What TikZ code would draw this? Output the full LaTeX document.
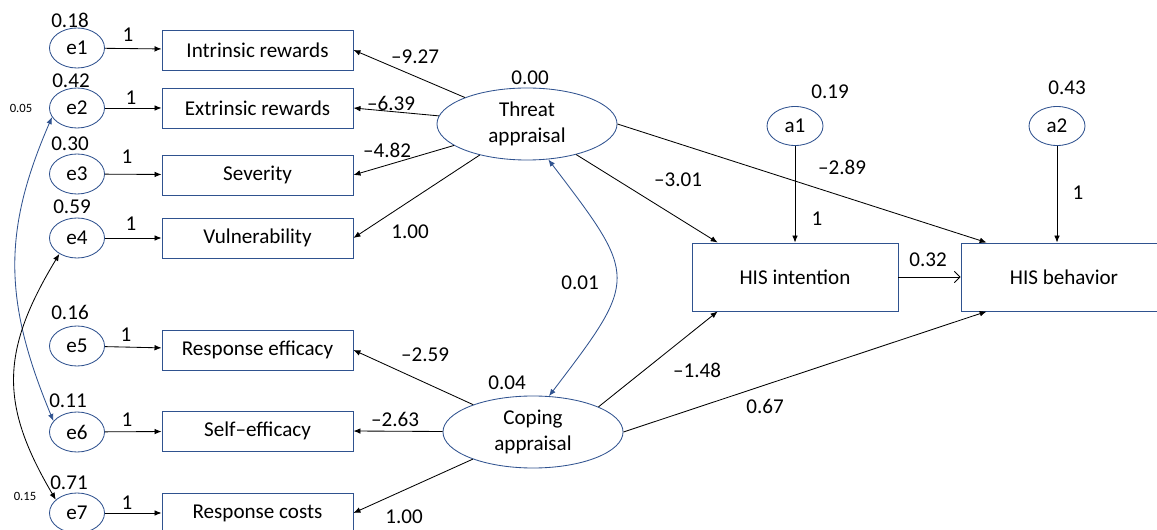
\documentclass[tikz,border=0pt]{standalone}
\usepackage{fontspec}
\setmainfont{Carlito}
\usetikzlibrary{shapes.geometric,arrows.meta}
\definecolor{lineblue}{RGB}{47,82,143}

\begin{document}
\begin{tikzpicture}[x=0.025cm, y=-0.025cm, >={Latex[length=5pt,width=4pt]},
  font=\fontsize{15}{19}\selectfont, line width=0.6pt,
  err/.style={ellipse, draw=lineblue, inner sep=0pt, minimum width=1.375cm, minimum height=1cm},
  ind/.style={rectangle, draw=lineblue, inner sep=0pt, minimum width=4.775cm, minimum height=1cm},
  lat/.style={ellipse, draw=lineblue, align=center, inner sep=0pt, minimum width=4.5cm, minimum height=1.8cm},
  res/.style={ellipse, draw=lineblue, inner sep=0pt, minimum width=1.4cm, minimum height=0.975cm},
  dv/.style={rectangle, draw=lineblue, inner sep=0pt, minimum width=5.15cm, minimum height=1.7cm},
  val/.style={inner sep=1pt},
  small/.style={inner sep=1pt, font=\fontsize{9}{11}\selectfont}]
\clip (0,0) rectangle (1157,530);
% error terms
\node[err] (e1) at (77,48) {e1};
\node[err] (e2) at (77,108) {e2};
\node[err] (e3) at (77,174) {e3};
\node[err] (e4) at (77,238) {e4};
\node[err] (e5) at (77,346) {e5};
\node[err] (e6) at (77,432) {e6};
\node[err] (e7) at (77,513) {e7};
% indicators
\node[ind] (v1) at (257.5,50) {Intrinsic rewards};
\node[ind] (v2) at (257.5,108) {Extrinsic rewards};
\node[ind] (v3) at (257.5,175) {Severity};
\node[ind] (v4) at (257.5,238) {Vulnerability};
\node[ind] (v5) at (257.5,350) {Response efficacy};
\node[ind] (v6) at (257.5,431) {Self–efficacy};
\node[ind] (v7) at (257.5,513) {Response costs};
% latent and outcomes
\node[lat] (threat) at (527,124) {Threat\\appraisal};
\node[lat] (coping) at (533,432) {Coping\\appraisal};
\node[dv] (int) at (795,277) {HIS intention};
\node[dv] (beh) at (1064,277) {HIS behavior};
\node[res] (a1) at (795,126) {a1};
\node[res] (a2) at (1057,126) {a2};

\foreach \i in {1,...,7} \draw[->] (e\i) -- (v\i);
\foreach \j in {1,...,4} \draw[->] (threat) -- (v\j.east);
\foreach \j in {5,6,7} \draw[->] (coping) -- (v\j.east);
\draw[->] (threat) -- (int.156);
\draw[->] (threat.east) -- (beh.156);
\draw[->] (coping.21) -- (int.204);
\draw[->] (coping.east) -- (beh.204);
\draw[->] (a1) -- (int);
\draw[->] (a2) -- (a2 |- beh.north);
\draw[-{Straight Barb[length=4pt,width=8pt]}] (int) -- (beh);
% covariances
\draw[<->, lineblue] (threat.-59) .. controls +(90,118) and +(90,-118) .. (coping.66);
\draw[<->, lineblue] (e2.200) .. controls (3,230) and (3,300) .. (e6.155);
\draw[<->] (e4.222) .. controls (0,352) and (0,405) .. (e7.148);

% variances
\node[val] (ve1) at (70,20) {0.18};
\node[val] (ve2) at (71,81) {0.42};
\node[val] (ve3) at (70,144) {0.30};
\node[val] (ve4) at (72,207) {0.59};
\node[val] (ve5) at (70,312) {0.16};
\node[val] (ve6) at (68,401) {0.11};
\node[val] (ve7) at (69,483) {0.71};
\node[val] (vthreat) at (530,78) {0.00};
\node[val] (vcoping) at (507,383) {0.04};
\node[val] (va1) at (830,92) {0.19};
\node[val] (va2) at (1067,88) {0.43};
% fixed loadings
\node[val] (f1) at (128,35) {1};
\node[val] (f2) at (131,98) {1};
\node[val] (f3) at (127,157) {1};
\node[val] (f4) at (131,224) {1};
\node[val] (f5) at (126,335) {1};
\node[val] (f6) at (127,420) {1};
\node[val] (f7) at (127,503) {1};
\node[val] (fa1) at (817,219) {1};
\node[val] (fa2) at (1078,193) {1};
% path values
\node[val] (p1) at (415,57) {–9.27};
\node[val] (p2) at (391,103) {–6.39};
\node[val] (p3) at (387,150) {–4.82};
\node[val] (p4) at (410,232) {1.00};
\node[val] (p5) at (425,355) {–2.59};
\node[val] (p6) at (395,419) {–2.63};
\node[val] (p7) at (404,517) {1.00};
\node[val] (p8) at (678,180) {–3.01};
\node[val] (p9) at (842,167) {–2.89};
\node[val] (p10) at (697,370) {–1.48};
\node[val] (p11) at (765,406) {0.67};
\node[val] (p12) at (928,260) {0.32};
\node[val] (c1) at (580,283) {0.01};
\node[small] (c2) at (21,108) {0.05};
\node[small] (c3) at (25,496) {0.15};
\end{tikzpicture}
\end{document}
